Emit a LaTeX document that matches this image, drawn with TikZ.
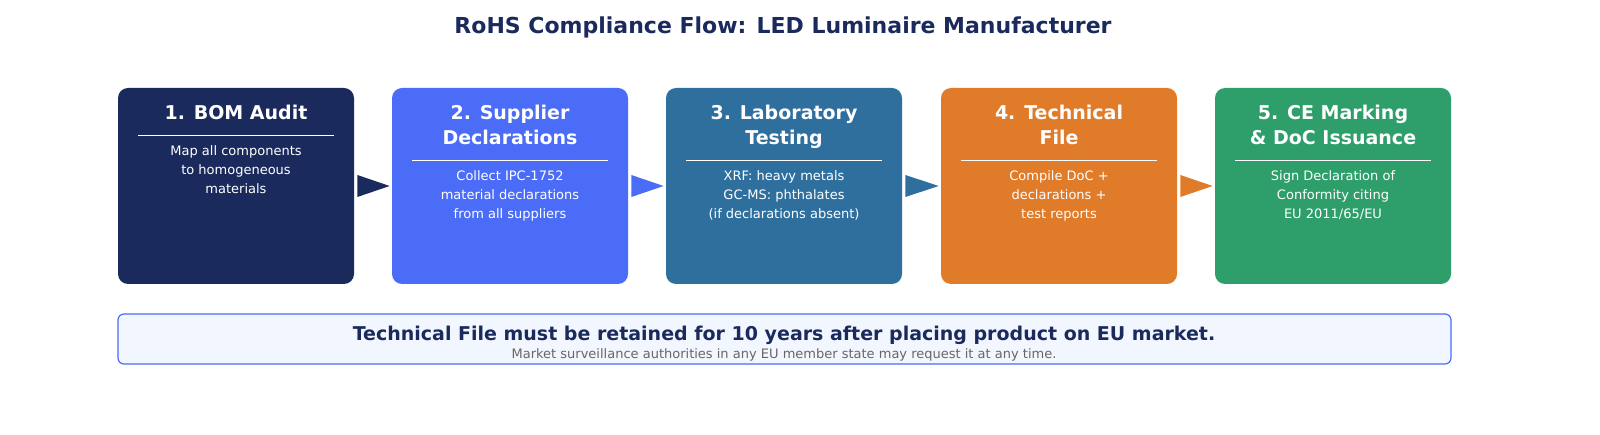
\documentclass[tikz,border=0pt]{standalone}
\usepackage{fontspec}
\setmainfont{DejaVu Sans}
\usetikzlibrary{positioning}
\definecolor{navy}{HTML}{1B2A5C}
\definecolor{supblue}{HTML}{4A6CF7}
\definecolor{labblue}{HTML}{2E6F9E}
\definecolor{techorange}{HTML}{E07B2A}
\definecolor{cegreen}{HTML}{2E9E6B}
\definecolor{notefill}{HTML}{F2F6FE}
\tikzset{every picture/.style={line width=0.75pt}}
\tikzset{
  flowstep/.style={rounded corners=10pt, minimum width=236pt, minimum height=196pt, inner sep=0pt},
  steptitle/.style={text=white, font=\fontsize{19}{25}\selectfont\bfseries, align=center, anchor=north},
  stepbody/.style={text=white, font=\fontsize{13}{19}\selectfont, align=center, anchor=north}
}
\begin{document}
\begin{tikzpicture}[x=1pt,y=1pt,yscale=-1]
	\useasboundingbox (0,0) rectangle (1600,435);

	% Title
	\node (title) at (783,27) {\fontsize{22}{26}\selectfont\bfseries\color{navy}RoHS Compliance Flow: LED Luminaire Manufacturer};

	% Steps
	\node [flowstep, fill=navy] (s1) at (236,186) {};
	\node [flowstep, fill=supblue] (s2) at (510,186) {};
	\node [flowstep, fill=labblue] (s3) at (784,186) {};
	\node [flowstep, fill=techorange] (s4) at (1059,186) {};
	\node [flowstep, fill=cegreen] (s5) at (1333,186) {};

	\node [steptitle] (t1) at (236,101) {1. BOM Audit};
	\node [steptitle] (t2) at (510,101) {2. Supplier\\Declarations};
	\node [steptitle] (t3) at (784,101) {3. Laboratory\\Testing};
	\node [steptitle] (t4) at (1059,101) {4. Technical\\File};
	\node [steptitle] (t5) at (1333,101) {5. CE Marking\\\& DoC Issuance};

	\draw [white, line width=0.8pt] (138,135) -- (334,135);
	\foreach \cx in {510,784,1059,1333}
		\draw [white, line width=0.8pt] (\cx-98,160) -- (\cx+98,160);

	\node [stepbody] (b1) at (236,142) {Map all components\\to homogeneous\\materials};
	\node [stepbody] (b2) at (510,167) {Collect IPC-1752\\material declarations\\from all suppliers};
	\node [stepbody] (b3) at (784,167) {XRF: heavy metals\\GC-MS: phthalates\\(if declarations absent)};
	\node [stepbody] (b4) at (1059,167) {Compile DoC +\\declarations +\\test reports};
	\node [stepbody] (b5) at (1333,167) {Sign Declaration of\\Conformity citing\\EU 2011/65/EU};

	% Arrows
	\fill [navy] ([xshift=3pt,yshift=11pt]s1.east) -- ([xshift=-2pt]s2.west) -- ([xshift=3pt,yshift=-11pt]s1.east) -- cycle;
	\fill [supblue] ([xshift=3pt,yshift=11pt]s2.east) -- ([xshift=-2pt]s3.west) -- ([xshift=3pt,yshift=-11pt]s2.east) -- cycle;
	\fill [labblue] ([xshift=3pt,yshift=11pt]s3.east) -- ([xshift=-2pt]s4.west) -- ([xshift=3pt,yshift=-11pt]s3.east) -- cycle;
	\fill [techorange] ([xshift=3pt,yshift=11pt]s4.east) -- ([xshift=-2pt]s5.west) -- ([xshift=3pt,yshift=-11pt]s4.east) -- cycle;

	% Note
	\draw [rounded corners=6pt, draw=supblue, fill=notefill, line width=1.2pt] (118,314) rectangle (1451,364);
	\node (note) at (784,335) {\fontsize{19}{23}\selectfont\bfseries\color{navy}Technical File must be retained for 10 years after placing product on EU market.};
	\node (notesub) at (784,355) {\fontsize{13}{15}\selectfont\color{black!60}Market surveillance authorities in any EU member state may request it at any time.};
\end{tikzpicture}
\end{document}
